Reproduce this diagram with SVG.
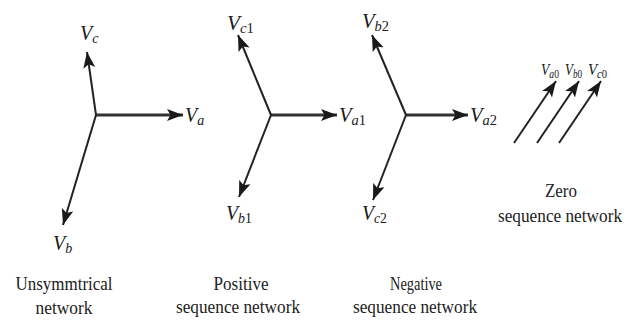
<svg xmlns="http://www.w3.org/2000/svg" width="634" height="324" viewBox="0 0 634 324" font-family="Liberation Serif, Times New Roman, serif">
<defs>
<marker id="ah" markerUnits="userSpaceOnUse" markerWidth="17" markerHeight="13" refX="16" refY="6" orient="auto">
<path d="M0,0 L16,6 L0,12 L3.5,6 z" fill="#1a1a1a"/>
</marker>
</defs>
<style>
.v{stroke:#222;stroke-width:2;fill:none;marker-end:url(#ah)}
.h{stroke:#333;stroke-width:2.8;fill:none;marker-end:url(#ah)}
.lb{font-style:italic;font-size:20px;fill:#1a1a1a}
.sb{font-size:14px}
.n{font-style:normal}
.cap{font-size:19px;fill:#222;text-anchor:middle}
.z{font-size:17px}
.zs{font-size:12px}
</style>
<g id="connectors">
<line class="h" x1="96" y1="115" x2="183" y2="115"/>
<line class="v" x1="96" y1="115" x2="87" y2="52"/>
<line class="v" x1="96" y1="115" x2="63" y2="225"/>
<line class="h" x1="271" y1="115" x2="337" y2="115"/>
<line class="v" x1="271" y1="115" x2="238" y2="35"/>
<line class="v" x1="271" y1="115" x2="239" y2="197"/>
<line class="h" x1="406" y1="115" x2="468" y2="115"/>
<line class="v" x1="406" y1="115" x2="372" y2="35"/>
<line class="v" x1="406" y1="115" x2="373" y2="200"/>
<line class="v" x1="514" y1="143" x2="556" y2="81"/>
<line class="v" x1="537" y1="143" x2="579" y2="81"/>
<line class="v" x1="559" y1="143" x2="601" y2="81"/>
</g>
<g id="unsymmetrical">
<text class="lb" x="80" y="40" font-family="Liberation Serif">V<tspan class="sb" dy="3">c</tspan></text>
<text class="lb" x="185" y="122" font-family="Liberation Serif">V<tspan class="sb" dy="3">a</tspan></text>
<text class="lb" x="53" y="250" font-family="Liberation Serif">V<tspan class="sb" dy="3">b</tspan></text>
<text class="cap" x="64" y="290" font-family="Liberation Serif" textLength="97" lengthAdjust="spacingAndGlyphs">Unsymmtrical</text>
<text class="cap" x="64" y="314" font-family="Liberation Serif" textLength="57" lengthAdjust="spacingAndGlyphs">network</text>
</g>
<g id="positive">
<text class="lb" x="227" y="30" font-family="Liberation Serif" textLength="27" lengthAdjust="spacingAndGlyphs">V<tspan class="sb" dy="3">c</tspan><tspan class="sb n">1</tspan></text>
<text class="lb" x="339" y="122" font-family="Liberation Serif" textLength="27" lengthAdjust="spacingAndGlyphs">V<tspan class="sb" dy="3">a</tspan><tspan class="sb n">1</tspan></text>
<text class="lb" x="226" y="220" font-family="Liberation Serif" textLength="26" lengthAdjust="spacingAndGlyphs">V<tspan class="sb" dy="3">b</tspan><tspan class="sb n">1</tspan></text>
<text class="cap" x="241" y="290" font-family="Liberation Serif" textLength="55" lengthAdjust="spacingAndGlyphs">Positive</text>
<text class="cap" x="238" y="313" font-family="Liberation Serif" textLength="124" lengthAdjust="spacingAndGlyphs">sequence network</text>
</g>
<g id="negative">
<text class="lb" x="362" y="28" font-family="Liberation Serif" textLength="27" lengthAdjust="spacingAndGlyphs">V<tspan class="sb" dy="3">b</tspan><tspan class="sb n">2</tspan></text>
<text class="lb" x="470" y="122" font-family="Liberation Serif" textLength="27" lengthAdjust="spacingAndGlyphs">V<tspan class="sb" dy="3">a</tspan><tspan class="sb n">2</tspan></text>
<text class="lb" x="362" y="220" font-family="Liberation Serif" textLength="25" lengthAdjust="spacingAndGlyphs">V<tspan class="sb" dy="3">c</tspan><tspan class="sb n">2</tspan></text>
<text class="cap" x="416" y="290" font-family="Liberation Serif" textLength="52" lengthAdjust="spacingAndGlyphs">Negative</text>
<text class="cap" x="415" y="313" font-family="Liberation Serif" textLength="124" lengthAdjust="spacingAndGlyphs">sequence network</text>
</g>
<g id="zero">
<text class="lb z" x="541" y="75" font-family="Liberation Serif" textLength="18" lengthAdjust="spacingAndGlyphs">V<tspan class="zs" dy="3">a</tspan><tspan class="zs n">0</tspan></text>
<text class="lb z" x="565" y="75" font-family="Liberation Serif" textLength="17" lengthAdjust="spacingAndGlyphs">V<tspan class="zs" dy="3">b</tspan><tspan class="zs n">0</tspan></text>
<text class="lb z" x="588" y="75" font-family="Liberation Serif" textLength="19" lengthAdjust="spacingAndGlyphs">V<tspan class="zs" dy="3">c</tspan><tspan class="zs n">0</tspan></text>
<text class="cap" x="561" y="197" font-family="Liberation Serif" textLength="32" lengthAdjust="spacingAndGlyphs">Zero</text>
<text class="cap" x="560" y="222" font-family="Liberation Serif" textLength="124" lengthAdjust="spacingAndGlyphs">sequence network</text>
</g>
</svg>
